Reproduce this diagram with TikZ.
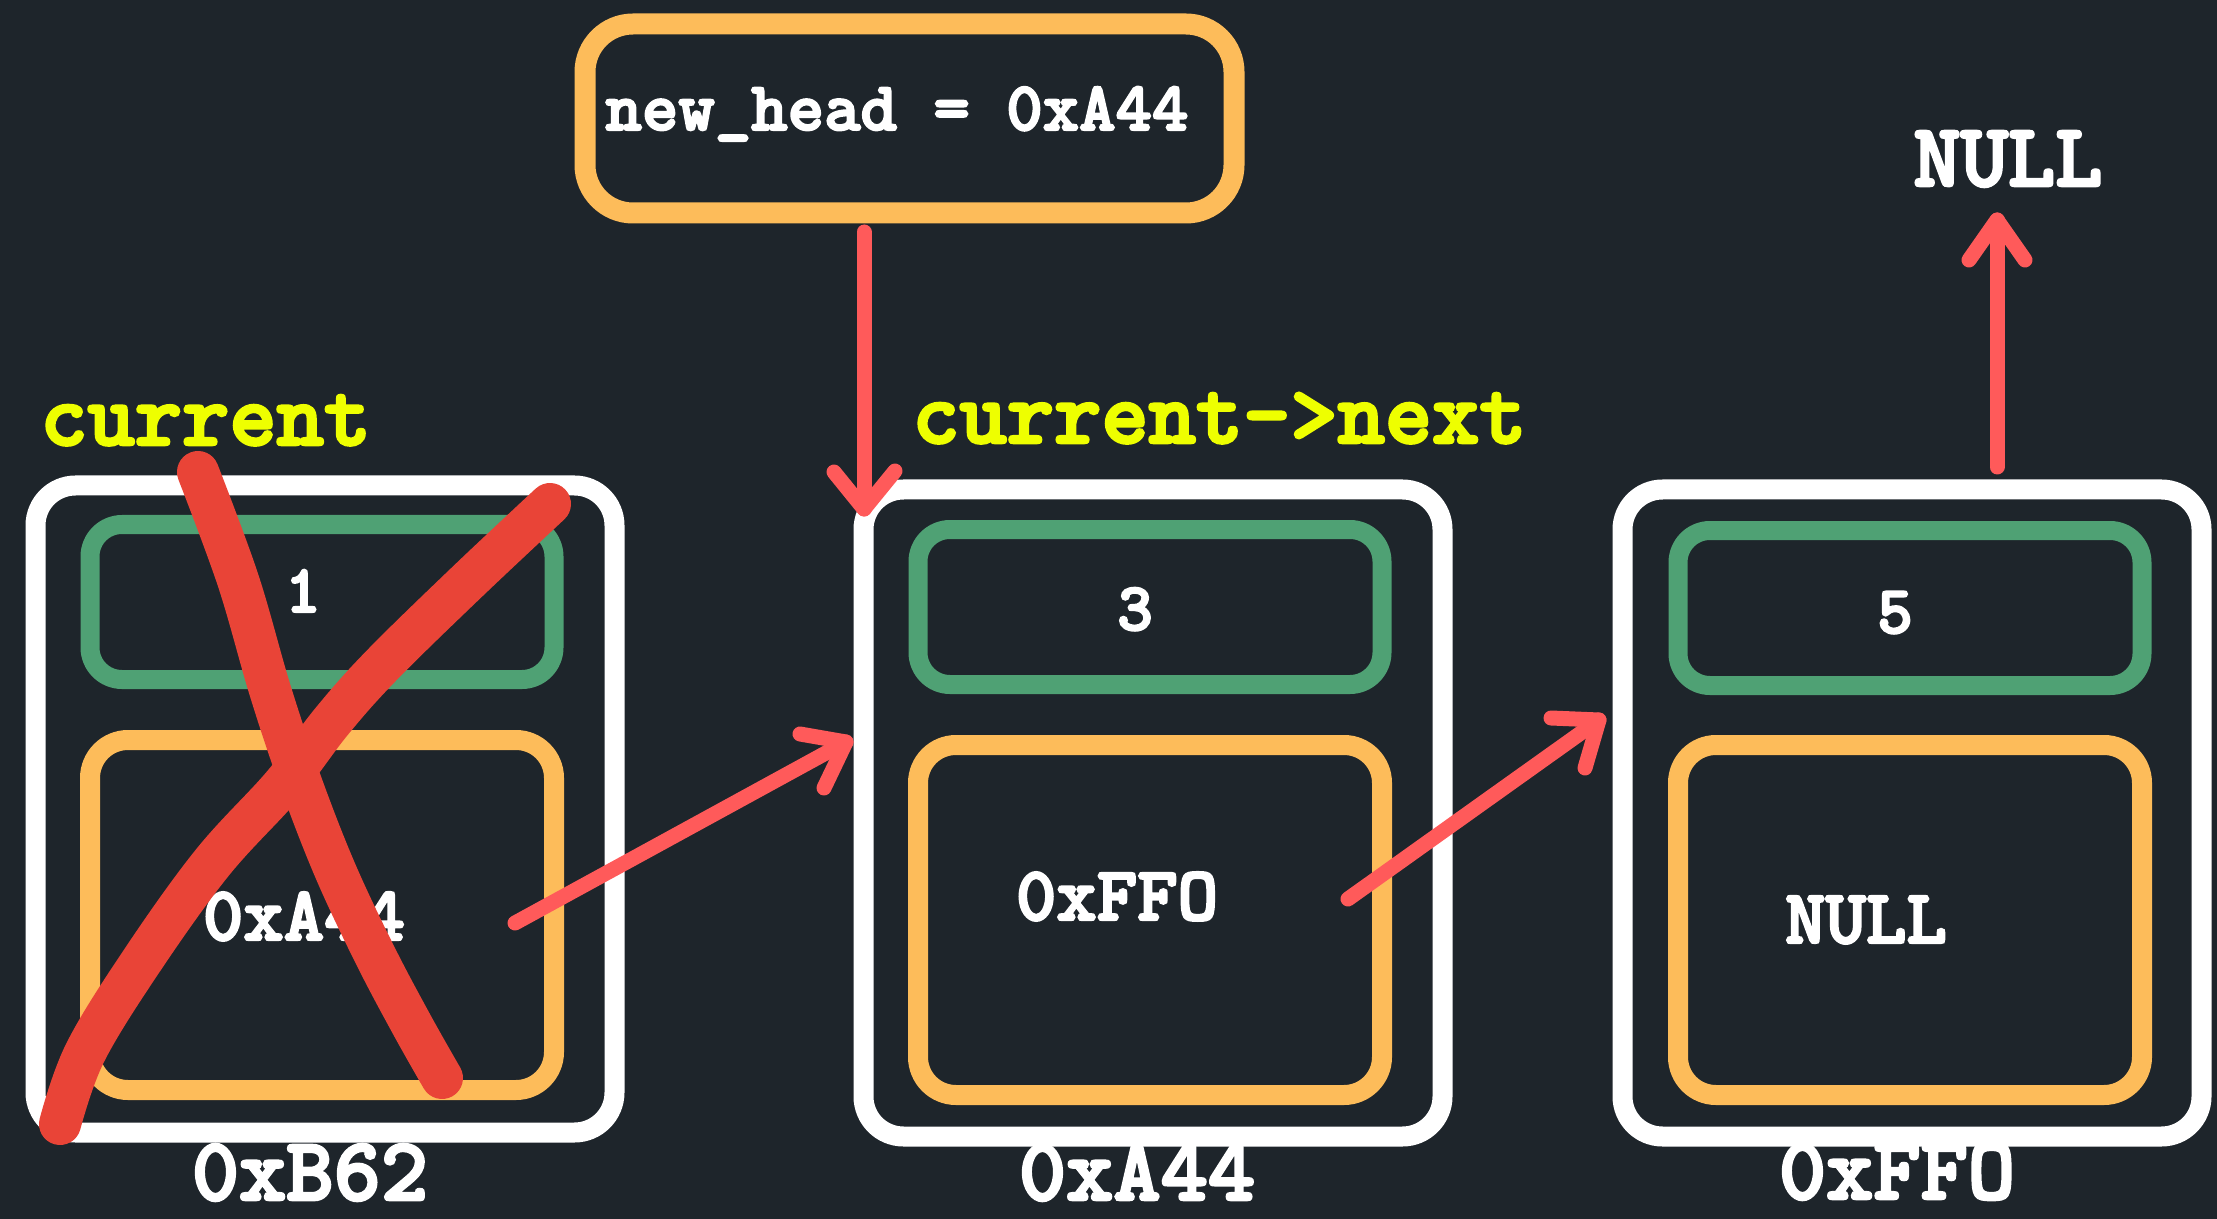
\documentclass[tikz,border=0pt]{standalone}
\usepackage{fontspec}
\newfontfamily\codefont{lmmonolt10-bold.otf}[FakeBold=3]
\definecolor{bg}{HTML}{1E252B}
\definecolor{wbox}{HTML}{FFFFFF}
\definecolor{gbox}{HTML}{4FA174}
\definecolor{obox}{HTML}{FDBC5A}
\definecolor{rarrow}{HTML}{FF5A5A}
\definecolor{xred}{HTML}{E94437}
\definecolor{ylab}{HTML}{EEFF00}
\begin{document}
\begin{tikzpicture}[x=0.5pt,y=-0.5pt,
  outerbox/.style={draw=wbox, fill=bg, line width=10pt, rounded corners=20pt,
    minimum width=289.5pt, minimum height=323.5pt, inner sep=0pt, outer sep=0pt},
  databox/.style={draw=gbox, line width=9.5pt, rounded corners=16pt,
    minimum width=232pt, minimum height=77.5pt, inner sep=0pt, outer sep=0pt},
  ptrbox/.style={draw=obox, line width=10pt, rounded corners=19pt,
    minimum width=232pt, minimum height=175pt, inner sep=0pt, outer sep=0pt},
  headbox/.style={draw=obox, fill=bg, line width=10.5pt, rounded corners=24pt,
    minimum width=324.5pt, minimum height=94.5pt, inner sep=0pt, outer sep=0pt},
  biglab/.style={text=white, inner sep=0pt, anchor=base,
    font=\codefont\fontsize{45pt}{54pt}\selectfont},
  varlab/.style={text=ylab, inner sep=0pt, anchor=base west,
    font=\codefont\fontsize{45pt}{54pt}\selectfont},
  inlab/.style={text=white, inner sep=0pt, anchor=base,
    font=\codefont\fontsize{38.5pt}{46pt}\selectfont},
  numlab/.style={text=white, inner sep=0pt, anchor=base,
    font=\codefont\fontsize{34pt}{40pt}\selectfont},
  headlab/.style={text=white, inner sep=0pt, anchor=base,
    font=\codefont\fontsize{34.7pt}{42pt}\selectfont},
  redarrow/.style={draw=rarrow, line width=7.5pt, line cap=round, line join=round},
  xstroke/.style={draw=xred, line width=21pt, line cap=round, line join=round}
]
\fill[bg] (0,0) rectangle (2217,1219);
\useasboundingbox (0,0) rectangle (2217,1219);

% list nodes
\node[outerbox] (n1) at (325,809) {};
\node[outerbox] (n2) at (1153,813) {};
\node[outerbox] (n3) at (1912,813) {};
\node[databox] (d1) at (322,602) {};
\node[databox] (d2) at (1150,607) {};
\node[databox] (d3) at (1910,608) {};
\node[ptrbox] (p1) at (322,915) {};
\node[ptrbox] (p2) at (1150,920) {};
\node[ptrbox] (p3) at (1910,920) {};

% head box
\node[headbox] (hb) at (909.5,118.5) {};
\node[headlab] (hbt) at (897,130) {new\_head = 0xA44};

% labels
\node[varlab] (cur) at (40,445) {current};
\node[varlab] (curn) at (912,443) {current->next};
\node[biglab] (a1) at (310,1200) {0xB62};
\node[biglab] (a2) at (1137,1200) {0xA44};
\node[biglab] (a3) at (1897,1199) {0xFFO};
\node[biglab] (nulltop) at (2008,186) {NULL};

\node[numlab] (v1) at (303,612) {1};
\node[numlab] (v2) at (1135,630) {3};
\node[numlab] (v3) at (1895,633) {5};
\node[inlab] (q1) at (304,940) {0xA44};
\node[inlab] (q2) at (1117,920) {0xFFO};
\node[inlab] (q3) at (1866,943) {NULL};

% arrows
\coordinate (s0) at (864,232);
\coordinate (t0) at (864,509);
\coordinate (t0a) at (834,472);
\coordinate (t0b) at (895,471);
\draw[redarrow] (s0) -- (t0);
\draw[redarrow] (t0a) -- (t0) -- (t0b);

\coordinate (s1) at (515,923);
\coordinate (t1) at (846,742);
\coordinate (t1a) at (800,734);
\coordinate (t1b) at (824,788);
\draw[redarrow] (s1) -- (t1);
\draw[redarrow] (t1a) -- (t1) -- (t1b);

\coordinate (s2) at (1348,899);
\coordinate (t2) at (1599,720);
\coordinate (t2a) at (1551,718);
\coordinate (t2b) at (1585,768);
\draw[redarrow] (s2) -- (t2);
\draw[redarrow] (t2a) -- (t2) -- (t2b);

\coordinate (s3) at (1997,467);
\coordinate (t3) at (1997,220);
\coordinate (t3a) at (1969,260);
\coordinate (t3b) at (2025,260);
\draw[redarrow] (s3) -- (t3);
\draw[redarrow] (t3a) -- (t3) -- (t3b);

% red cross
\draw[xstroke] plot[smooth, tension=0.6] coordinates {(198,472) (238,580) (270,690) (300,780) (335,870) (375,955) (412,1025) (442,1078)};
\draw[xstroke] plot[smooth, tension=0.6] coordinates {(550,504) (467,582) (382,665) (332,721) (283,785) (212,863) (141,962) (85,1053) (60,1124)};
\end{tikzpicture}
\end{document}
